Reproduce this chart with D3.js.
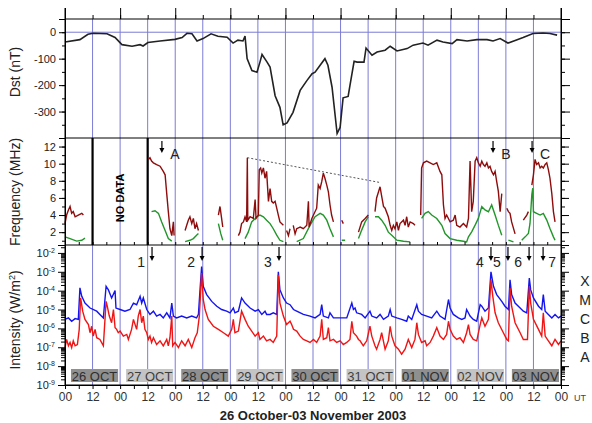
<!DOCTYPE html>
<html>
<head>
<meta charset="utf-8">
<script src="https://cdn.jsdelivr.net/npm/d3@7"></script>
<style>
  body { margin: 0; background: #fff; }
  svg { display: block; }
  text { font-family: "Liberation Sans", Arial, sans-serif; }
</style>
</head>
<body>
<div class="canvas"></div>
<script>
// hours counted from 26 Oct 2003 00 UT
const dstData = [[0,-37],[6.5,-28],[10,-8],[12.2,-4],[18.3,-6],[21.8,-20],[24.8,-47],[29.2,-53],[32.7,-47],[34,-52],[36.1,-39],
  [41.4,-33],[47.9,-27],[51,-20],[53.1,-4],[55.3,-6],[57.5,-33],[60.1,-24],[63.6,-6],[66.6,-15],[70.6,-19],[73.2,-41],[75.3,-30],
  [77.5,-33],[78.4,-15],[79.3,-100],[81.4,-145],[83.6,-151],[84.9,-113],[85.8,-84],[88,-113],[89.3,-132],[91.5,-240],[93.6,-284],
  [95,-350],[96.7,-343],[99.3,-303],[102.4,-220],[105.4,-182],[107.6,-157],[108.9,-151],[111.1,-125],[113.2,-100],[114.5,-125],
  [116.3,-208],[118.5,-383],[119.8,-360],[121.1,-248],[123.3,-243],[124.1,-201],[125.9,-110],[127.2,-113],[130.2,-113],[131.1,-60],
  [133.7,-87],[135.9,-75],[139.4,-68],[141.6,-53],[144.6,-71],[149,-62],[151.6,-49],[155.9,-41],[158.1,-49],[162,-30],[164.6,-37],
  [168.6,-43],[170.7,-28],[175.1,-33],[179.4,-28],[183.8,-28],[186.4,-33],[189.5,-24],[192.9,-41],[196.9,-28],[199.5,-20],
  [203.8,-5],[208.2,-3],[211.2,-5],[214.3,-11]];

// radio burst drift, MHz (null = gap)
const freqRed = [[0,3.0],[0.7,4.0],[1.5,4.6],[2.2,5.0],[2.9,4.2],[3.6,4.4],[4.4,3.8],[5.8,4.0],[7.3,4.2],[8.0,4.0], null,
  [36.3,10.5],[37.0,10.7],[37.7,10.3],[38.5,10.1],[39.9,9.9],[41.4,9.7],[42.8,9.1],[43.6,8.7],[44.3,6.5],[45.0,4.4],[45.7,2.4],[46.5,1.6],[47.2,3.2],[47.5,1.6], null,
  [52.3,2.2],[53.0,2.8],[53.7,3.4],[54.4,3.8],[55.2,3.0],[55.9,3.6],[56.6,2.4],[57.3,3.0],[58.1,2.2], null,
  [66.8,4.0],[67.5,5.0],[68.2,3.6],[68.7,2.6], null,
  [75.5,1.6],[76.2,2.0],[76.9,3.0],[77.7,3.2],[78.4,3.8],[79.1,3.2],[79.4,10.7],[79.6,3.4],[80.6,3.8],[82.0,3.6],[82.8,5.8],[83.2,3.6],
  [84.2,4.0],[84.6,9.3],[85.2,9.5],[85.7,8.9],[86.4,9.5],[87.1,8.3],[87.8,9.1],[88.6,5.6],[89.3,7.1],[90.0,5.6],[90.7,5.4],[91.5,5.6],
  [92.2,4.8],[92.9,4.0],[93.6,3.2],[95.1,2.8], null,
  [96.5,2.2],[97.3,1.6],[98.0,2.4], null,
  [99.4,2.8],[100.2,1.8],[100.9,2.4],[102.4,2.6],[103.8,2.4],[105.3,2.8],[106.0,5.6],[106.3,2.6],[107.5,3.6],[108.2,4.0],[109.6,4.8],
  [110.3,7.5],[111.1,7.1],[111.8,7.9],[112.5,8.9],[113.2,8.3],[114.0,7.5],[114.7,6.7],[115.4,5.2],[116.1,4.0],[116.9,3.2], null,
  [120.5,3.4],[121.2,3.0], null,
  [127.8,2.0],[129.2,3.2],[130.7,3.6],[132.1,4.0], null,
  [135.0,4.4],[135.7,6.0],[136.5,6.7],[137.2,7.3],[137.9,6.2],[138.7,5.0],[139.4,4.8],[140.8,3.8],[141.6,2.8],[142.3,2.2],[143.0,2.8],
  [143.7,2.4],[144.5,3.2],[145.2,2.2],[145.9,3.0],[147.4,3.4],[148.1,2.8],[148.8,3.8],[149.5,2.6],[150.3,3.2],[151.7,3.0],[152.4,2.8], null,
  [154.9,4.0],[155.3,9.5],[156.1,10.1],[157.5,10.3],[159.0,10.1],[160.4,9.9],[161.9,10.1],[163.3,9.1],[164.1,8.7],[164.8,5.2],[165.5,3.6],
  [166.2,4.0],[167.7,3.2],[169.1,3.4],[169.9,4.0],[170.6,2.8],[172.0,2.6],[173.5,3.0],[174.9,2.6],[175.7,3.6],[176.4,10.3],[177.1,4.4],
  [177.8,5.6],[178.6,10.3],[179.3,10.7],[180.0,10.1],[180.8,9.7],[181.5,10.3],[182.2,9.9],[182.9,9.7],[183.7,10.1],[184.4,9.5],[185.1,9.7],
  [185.8,9.1],[186.6,8.7],[187.3,9.1],[188.0,7.9],[188.7,6.8],[189.5,4.4],[190.2,6.5], null,
  [192.4,4.8],[193.1,4.4],[193.8,4.2],[194.5,3.2],[196.0,1.8], null,
  [199.6,3.4],[201.1,4.0],[201.8,4.4], null,
  [203.3,7.5],[204.0,8.7],[204.7,10.5],[205.4,9.9],[206.2,10.1],[206.9,9.5],[207.6,9.7],[208.3,9.5],[209.1,9.9],[209.8,10.1],[210.5,9.3],
  [211.2,8.3],[212.0,6.5],[212.7,4.4],[213.4,3.2]];

const freqGreen = [[0,1.45],[2.2,1.25],[5.1,0.95],[7.3,1.05],[8.7,1.3], null,
  [37.7,4.4],[39.2,4.5],[40.7,4.2],[42.1,3.2],[43.6,2.2],[45.0,1.25],[46.5,0.95], null,
  [52.3,0.9],[54.4,1.05],[55.9,1.25],[57.3,1.65],[58.1,1.85], null,
  [66.8,3.0],[67.8,1.85],[68.7,1.05], null,
  [78.4,1.25],[79.8,2.0],[81.3,3.2],[82.8,3.6],[83.5,3.8],[84.9,4.0],[86.4,3.8],[87.8,3.4],[89.3,3.0],[90.7,2.4],[92.2,1.65],[93.6,1.05],[95.1,0.9], null,
  [100.9,0.9],[103.8,1.25],[106.7,2.8],[108.9,3.8],[111.1,4.2],[112.5,4.0],[114.0,3.4],[115.4,2.4],[116.9,1.45], null,
  [120.5,1.05],[122.0,1.05], null,
  [127.8,1.25],[129.2,2.24],[130.7,3.2],[132.1,3.8], null,
  [135.0,3.8],[136.5,3.8],[137.9,3.4],[139.4,2.8],[140.8,2.0],[142.3,1.65],[144.5,1.06],[147.4,0.94],[150.3,0.86], null,
  [155.3,3.6],[156.8,4.2],[158.2,4.4],[159.7,4.0],[161.9,3.6],[164.1,2.8],[165.5,1.84],[167.7,1.25],[170.6,1.06],[173.5,0.94],[174.9,0.86],
  [175.7,1.45],[177.1,2.04],[178.6,2.82],[180.0,3.61],[181.5,4.98],[182.9,4.59],[184.4,4.39],[185.8,5.18],[187.3,4.0],[188.7,2.82],[190.2,1.65], null,
  [193.1,1.06],[195.3,0.86], null,
  [198.9,1.06],[200.4,1.45],[201.8,1.84],[202.5,3.02],[203.3,6.4],[203.7,7.14],[204.0,4.39],[205.4,4.2],[206.9,4.0],[208.3,4.2],
  [209.8,3.41],[211.2,2.43],[212.7,1.45],[213.4,1.06]];

// GOES X-ray flux, W/m^2
const xrayLong = [[0,3.0e-6],[1.5,3.6e-6],[2.9,2.4e-6],[4.4,3.3e-6],[5.8,3.0e-6],[6.5,1.4e-4],[7.3,5.0e-5],[8.7,2.2e-5],[10.9,1.2e-5],
  [13.8,8.2e-6],[15.2,5.5e-6],[16.7,3.6e-6],[17.9,1.7e-4],[18.9,1.1e-4],[20.3,4.1e-5],[21.8,1.0e-4],[22.2,1.2e-5],[24.0,1.0e-5],
  [26.1,8.2e-6],[28.3,1.0e-5],[29.8,2.2e-5],[31.2,1.8e-5],[32.7,5.0e-5],[33.4,2.2e-5],[34.1,4.1e-5],[35.6,1.0e-5],[37.0,5.5e-6],
  [38.5,8.2e-6],[39.9,4.5e-6],[41.4,5.5e-6],[42.8,3.6e-6],[44.3,6.7e-6],[45.7,3.6e-6],[46.5,2.2e-5],[47.2,4.5e-6],[48.6,3.6e-6],
  [50.8,4.5e-6],[53.0,3.6e-6],[55.2,4.5e-6],[57.3,3.6e-6],[58.1,5.5e-6],[58.8,1.1e-4],[59.5,1.9e-3],[60.2,1.7e-4],[61.7,6.2e-5],
  [63.9,2.7e-5],[66.1,1.5e-5],[68.2,1.0e-5],[70.4,8.2e-6],[71.9,6.7e-6],[73.3,1.2e-5],[74.0,6.7e-6],[75.5,8.2e-6],[76.9,4.1e-5],
  [78.4,2.2e-5],[80.6,1.2e-5],[82.8,8.2e-6],[84.2,1.0e-5],[85.7,5.5e-6],[87.1,8.2e-6],[87.8,5.5e-6],[89.3,5.5e-6],[90.7,6.7e-6],
  [92.2,5.5e-6],[92.9,1.0e-3],[93.6,1.1e-4],[95.1,4.1e-5],[96.5,2.2e-5],[98.0,1.8e-5],[99.5,1.0e-5],[100.9,8.2e-6],[103.8,5.5e-6],
  [106.7,4.5e-6],[108.9,3.6e-6],[111.1,5.5e-6],[111.8,1.8e-5],[112.5,4.5e-6],[114.7,3.6e-6],[115.4,6.7e-6],[116.9,3.6e-6],
  [119.8,3.6e-6],[122.7,3.6e-6],[124.9,2.2e-5],[125.6,1.0e-5],[126.3,1.2e-5],[127.0,6.7e-6],[129.2,5.5e-6],[130.7,3.6e-6],
  [132.8,8.2e-6],[133.6,4.5e-6],[135.7,3.6e-6],[137.2,5.5e-6],[138.7,3.0e-6],[140.8,4.5e-6],[141.6,1.0e-5],[142.3,4.5e-6],
  [144.5,3.6e-6],[146.6,3.0e-6],[148.8,2.4e-6],[149.5,4.5e-6],[151.0,3.0e-6],[153.2,1.8e-5],[153.9,8.2e-6],[155.3,5.5e-6],
  [157.5,4.5e-6],[159.7,3.6e-6],[161.9,8.2e-6],[163.3,4.5e-6],[165.5,3.0e-6],[167.0,3.4e-5],[167.7,1.2e-5],[169.1,5.5e-6],
  [171.3,3.6e-6],[172.8,3.0e-6],[174.2,3.6e-6],[174.9,1.0e-5],[176.4,4.5e-6],[177.8,3.0e-6],[179.3,2.4e-6],[180.8,1.8e-5],
  [181.5,1.5e-5],[182.9,8.2e-6],[184.4,1.2e-5],[185.5,1.0e-3],[186.6,1.7e-4],[188.0,6.2e-5],[190.2,2.7e-5],[191.6,1.5e-5],
  [193.1,1.0e-5],[193.8,3.8e-4],[194.5,6.2e-5],[196.0,2.2e-5],[198.2,1.2e-5],[199.6,8.2e-6],[201.1,6.7e-6],[202.2,4.6e-4],
  [202.8,1.1e-4],[204.0,4.1e-5],[206.2,1.5e-5],[207.6,1.0e-5],[208.3,6.2e-5],[209.1,8.2e-6],[210.5,5.5e-6],[212.0,3.6e-6],
  [213.4,5.5e-6],[214.9,3.6e-6],[216,4.5e-6]];

const xrayShort = [[0,9.6e-8],[0.7,2.6e-7],[1.5,1.2e-7],[2.2,1.8e-7],[2.9,9.6e-8],[3.6,2.2e-7],[4.4,1.2e-7],[5.4,1.4e-7],[6.2,8.9e-7],
  [6.8,4.1e-5],[7.7,8.2e-6],[8.7,3.0e-6],[10.2,1.6e-6],[10.9,5.9e-7],[11.6,1.3e-6],[12.3,3.9e-7],[13.1,8.9e-7],[13.8,3.2e-7],
  [15.2,2.6e-7],[16.7,1.2e-7],[17.9,2.7e-5],[18.4,1.5e-5],[19.3,4.5e-6],[20.3,2.0e-6],[21.1,1.0e-5],[21.8,1.1e-6],[22.5,8.9e-7],
  [23.2,5.9e-7],[24.0,7.2e-7],[25.4,3.9e-7],[26.9,4.8e-7],[27.6,2.6e-7],[29.0,8.9e-7],[29.8,3.0e-6],[31.2,8.9e-7],[31.9,4.5e-6],
  [32.7,1.0e-5],[33.4,2.0e-6],[34.1,4.5e-6],[34.8,8.9e-7],[35.6,5.9e-7],[36.3,2.6e-7],[37.0,3.9e-7],[37.7,1.8e-7],[38.5,3.2e-7],
  [39.9,1.4e-7],[41.4,2.2e-7],[42.8,1.2e-7],[44.3,2.6e-7],[45.0,1.2e-7],[45.7,3.2e-7],[46.5,4.5e-6],[46.9,1.2e-7],[47.9,1.8e-7],
  [49.4,9.6e-8],[50.8,2.2e-7],[52.3,1.2e-7],[53.7,2.6e-7],[55.2,9.6e-8],[56.6,3.2e-7],[57.6,5.9e-7],[58.5,4.5e-6],[59.1,1.1e-4],
  [59.5,8.5e-4],[60.2,3.4e-5],[61.0,1.0e-5],[62.4,3.0e-6],[64.6,1.3e-6],[66.8,8.9e-7],[69.0,5.9e-7],[71.1,3.9e-7],[72.6,8.9e-7],
  [73.3,3.0e-6],[74.0,5.9e-7],[75.5,7.2e-7],[76.9,8.2e-6],[78.4,3.0e-6],[79.8,1.3e-6],[81.3,7.2e-7],[82.8,3.9e-7],[84.2,5.9e-7],
  [84.9,2.6e-7],[86.4,3.9e-7],[87.8,2.2e-7],[89.3,2.6e-7],[90.7,1.8e-7],[92.2,3.9e-7],[92.9,7.0e-4],[93.6,2.2e-5],[95.1,4.5e-6],
  [96.5,1.6e-6],[98.0,2.4e-6],[98.7,1.6e-6],[99.5,8.9e-7],[100.9,7.2e-7],[102.4,3.9e-7],[103.8,2.6e-7],[105.3,2.2e-7],[106.7,1.8e-7],
  [108.2,2.6e-7],[109.6,1.8e-7],[111.1,3.9e-7],[111.8,3.0e-6],[112.5,2.6e-7],[114.0,3.2e-7],[114.7,1.1e-6],[115.4,2.2e-7],
  [116.9,2.6e-7],[118.3,1.8e-7],[119.8,2.2e-7],[121.2,1.4e-7],[122.7,1.8e-7],[124.1,2.6e-7],[124.9,2.4e-6],[125.6,5.9e-7],
  [127.0,3.9e-7],[127.8,2.6e-7],[128.5,2.2e-7],[129.9,1.2e-7],[131.4,2.2e-7],[132.8,1.3e-6],[133.6,3.9e-7],[135.0,1.2e-7],
  [135.7,7.9e-8],[137.2,2.6e-7],[137.9,5.9e-7],[139.4,7.9e-8],[140.8,2.2e-7],[141.6,1.3e-6],[142.3,3.9e-7],[143.7,1.2e-7],
  [145.2,7.9e-8],[146.6,4.3e-8],[148.1,7.9e-8],[149.5,2.6e-7],[151.0,9.6e-8],[152.4,2.6e-7],[153.2,2.0e-6],[153.9,4.8e-7],
  [155.3,1.8e-7],[156.8,2.2e-7],[157.5,1.2e-7],[159.0,1.8e-7],[160.4,3.9e-7],[161.9,1.1e-6],[163.3,3.9e-7],[164.8,2.6e-7],
  [166.2,4.8e-7],[167.0,2.4e-6],[167.7,8.9e-7],[169.1,3.9e-7],[170.6,2.6e-7],[172.0,3.2e-7],[173.5,1.8e-7],[174.9,5.9e-7],
  [175.7,1.6e-6],[176.4,4.8e-7],[177.8,2.6e-7],[179.3,2.2e-7],[180.8,1.6e-6],[181.5,3.6e-6],[182.9,1.3e-6],[184.4,3.0e-6],
  [185.5,3.8e-4],[186.3,5.0e-5],[187.3,6.7e-6],[188.7,2.0e-6],[190.9,5.9e-7],[192.4,2.6e-7],[193.1,2.2e-7],[193.8,1.4e-4],
  [194.5,1.5e-5],[196.0,2.0e-6],[198.2,5.9e-7],[199.6,2.6e-7],[201.4,2.6e-7],[202.2,1.7e-4],[202.8,2.2e-5],[204.0,3.0e-6],
  [206.2,8.9e-7],[207.6,3.9e-7],[208.3,6.7e-6],[209.1,3.9e-7],[210.5,2.2e-7],[212.0,1.2e-7],[213.4,2.6e-7],[214.9,1.4e-7],[216,2.2e-7]];

const dayLabels = ['26 OCT', '27 OCT', '28 OCT', '29 OCT', '30 OCT', '31 OCT', '01 NOV', '02 NOV', '03 NOV'];
const flareNames = ['1', '2', '3', '4', '5', '6', '7'];
const flareHours = [37.9, 59.7, 93.2, 185.5, 192.9, 202.1, 208.2];
const burstNames = ['A', 'B', 'C'];
const burstHours = [42.2, 186.4, 203.4];
const noDataHours = [12, 36];
const driftLine = [[79.4, 10.7], [137.2, 7.8]];
const classNames = ['X', 'M', 'C', 'B', 'A'];
const classFlux = [10 ** -3.5, 10 ** -4.5, 10 ** -5.5, 10 ** -6.5, 10 ** -7.5];

const t0 = Date.UTC(2003, 9, 26);
const at = h => new Date(t0 + h * 3600e3);

const left = 65, right = 561;
const dstTop = 19, dstBot = 138, frqBot = 245, intBot = 385;
const gridBlue = '#7c7cd6';

const svg = d3.select('.canvas')
    .append('svg')
    .attr('width', 592)
    .attr('height', 423);

const x = d3.scaleUtc().domain([at(0), at(216)]).range([left, right]);
const yDst = d3.scaleLinear().domain([50, -400]).range([dstTop, dstBot]);
const yFrq = d3.scaleLinear().domain([0.5, 13]).range([frqBot, dstBot]);
const yInt = d3.scaleLog().domain([1e-9, 10 ** -1.58]).range([intBot, frqBot]);

// blue grid every 12 h
const gridHours = d3.range(12, 216, 12);
svg.append('g').selectAll('line')
    .data(gridHours)
    .enter().append('line')
    .attr('x1', d => x(at(d))).attr('x2', d => x(at(d)))
    .attr('y1', dstTop).attr('y2', intBot)
    .attr('stroke', gridBlue).attr('stroke-width', 1);

// Dst zero line
svg.append('line')
    .attr('x1', left).attr('x2', right)
    .attr('y1', yDst(0)).attr('y2', yDst(0))
    .attr('stroke', gridBlue);

// no data markers
svg.append('g').selectAll('line')
    .data(noDataHours)
    .enter().append('line')
    .attr('x1', d => x(at(d))).attr('x2', d => x(at(d)))
    .attr('y1', dstBot).attr('y2', frqBot)
    .attr('stroke', '#000').attr('stroke-width', 2.2);

svg.append('text')
    .attr('transform', `translate(${x(at(24)) + 4}, ${yFrq(6)}) rotate(-90)`)
    .attr('text-anchor', 'middle')
    .attr('font-size', 11).attr('font-weight', 'bold')
    .text('NO DATA');

// series
const lineOf = yScale => d3.line()
    .defined(d => d !== null)
    .x(d => x(at(d[0])))
    .y(d => yScale(d[1]));

svg.append('path').datum(dstData)
    .attr('d', lineOf(yDst))
    .attr('fill', 'none').attr('stroke', '#222').attr('stroke-width', 1.6);

svg.append('path').datum(driftLine)
    .attr('d', lineOf(yFrq))
    .attr('fill', 'none').attr('stroke', '#555').attr('stroke-width', 1).attr('stroke-dasharray', '2,2');

svg.append('path').datum(freqGreen)
    .attr('d', lineOf(yFrq))
    .attr('fill', 'none').attr('stroke', '#22962a').attr('stroke-width', 1.4);

svg.append('path').datum(freqRed)
    .attr('d', lineOf(yFrq))
    .attr('fill', 'none').attr('stroke', '#8e0c0c').attr('stroke-width', 1.4);

svg.append('path').datum(xrayLong)
    .attr('d', lineOf(yInt))
    .attr('fill', 'none').attr('stroke', '#1414f0').attr('stroke-width', 1.4);

svg.append('path').datum(xrayShort)
    .attr('d', lineOf(yInt))
    .attr('fill', 'none').attr('stroke', '#f01414').attr('stroke-width', 1.4);

// frame lines
const frameYs = [dstTop, dstBot, frqBot, intBot];
frameYs.forEach(yy => {
    svg.append('line').attr('x1', left).attr('x2', right).attr('y1', yy).attr('y2', yy).attr('stroke', '#000');
});

// left / right axes
const styleAxis = g => {
    g.select('.domain').attr('stroke', '#000');
    g.selectAll('.tick line').attr('stroke', '#000');
    g.selectAll('text').attr('fill', '#222').attr('font-size', 11)
        .attr('font-family', '"Liberation Sans", Arial, sans-serif');
};

const addAxis = (axis, xPos) => svg.append('g')
    .attr('transform', `translate(${xPos}, 0)`)
    .call(axis).call(styleAxis);

addAxis(d3.axisLeft(yDst).tickValues(d3.range(-400, 51, 50)).tickSize(3).tickFormat(''), left);
addAxis(d3.axisLeft(yDst).tickValues([0, -100, -200, -300]).tickSize(6).tickPadding(3).tickFormat(d => String(d)), left);
addAxis(d3.axisRight(yDst).tickValues(d3.range(-400, 51, 50)).tickSize(4).tickFormat(''), right);
addAxis(d3.axisRight(yDst).tickValues(d3.range(-400, 51, 100)).tickSize(9).tickFormat(''), right);

addAxis(d3.axisLeft(yFrq).tickValues(d3.range(1, 14, 1)).tickSize(3).tickFormat(''), left);
addAxis(d3.axisLeft(yFrq).tickValues(d3.range(2, 13, 2)).tickSize(6).tickPadding(3), left);
addAxis(d3.axisRight(yFrq).tickValues(d3.range(1, 14, 1)).tickSize(4).tickFormat(''), right);
addAxis(d3.axisRight(yFrq).tickValues(d3.range(2, 13, 2)).tickSize(8).tickFormat(''), right);

const decades = d3.range(-9, -1).map(e => 10 ** e);
const minorFlux = [];
d3.range(-9, -1).forEach(e => d3.range(2, 10).forEach(k => {
    if (k * 10 ** e < yInt.domain()[1]) minorFlux.push(k * 10 ** e);
}));

addAxis(d3.axisLeft(yInt).tickValues(minorFlux).tickSize(4).tickFormat(''), left);
addAxis(d3.axisRight(yInt).tickValues(minorFlux).tickSize(4).tickFormat(''), right);
addAxis(d3.axisRight(yInt).tickValues(decades).tickSize(8).tickFormat(''), right);
addAxis(d3.axisLeft(yInt).tickValues(decades).tickSize(7).tickPadding(3).tickFormat(''), left)
    .selectAll('.tick text').each(function(d) {
        const t = d3.select(this);
        t.append('tspan').text('10');
        t.append('tspan').attr('dy', -4).attr('font-size', 7).text(String(Math.round(Math.log10(d))));
    });

// class letters
svg.append('g').selectAll('text')
    .data(classNames)
    .enter().append('text')
    .attr('x', 585).attr('y', (d, i) => yInt(classFlux[i]))
    .attr('dy', '0.35em').attr('text-anchor', 'middle')
    .attr('font-size', 14).attr('fill', '#222')
    .text(d => d);

// top ticks
addAxis(d3.axisTop(x).ticks(d3.utcHour.every(24)).tickSize(11).tickFormat(''), 0)
    .attr('transform', `translate(0, ${dstTop})`).select('.domain').remove();
addAxis(d3.axisTop(x).ticks(d3.utcHour.every(12)).tickSize(4).tickFormat(''), 0)
    .attr('transform', `translate(0, ${dstTop})`).select('.domain').remove();

// small ticks at bottom of frequency panel
addAxis(d3.axisTop(x).ticks(d3.utcHour.every(6)).tickSize(3).tickFormat(''), 0)
    .attr('transform', `translate(0, ${frqBot})`).select('.domain').remove();

// vertical frame
svg.append('line').attr('x1', left).attr('x2', left).attr('y1', dstTop - 11).attr('y2', intBot).attr('stroke', '#000');
svg.append('line').attr('x1', right).attr('x2', right).attr('y1', dstTop - 11).attr('y2', intBot).attr('stroke', '#000');

// day boxes
const days = svg.append('g').selectAll('g')
    .data(dayLabels)
    .enter().append('g');

days.append('rect')
    .attr('x', (d, i) => x(at(24 * i)) + 6)
    .attr('width', (d, i) => x(at(24 * i + 24)) - x(at(24 * i)) - 8)
    .attr('y', 369).attr('height', 13)
    .attr('fill', (d, i) => i % 2 === 0 ? '#8f8f8f' : '#c4c4c4');

days.append('text')
    .attr('x', (d, i) => (x(at(24 * i)) + x(at(24 * i + 24))) / 2 + 2)
    .attr('y', 380.5)
    .attr('text-anchor', 'middle')
    .attr('font-size', 13)
    .attr('fill', (d, i) => i % 2 === 0 ? '#2e2e2e' : '#3e3e3e')
    .text(d => d);

// bottom axis
const xAxisGroup = svg.append('g')
    .attr('transform', `translate(0, ${intBot})`)
    .call(d3.axisBottom(x).ticks(d3.utcHour.every(6)).tickSize(4).tickPadding(3)
        .tickFormat(d => d.getUTCHours() % 12 === 0 ? d3.utcFormat('%H')(d) : ''))
    .call(styleAxis);
xAxisGroup.selectAll('text').attr('font-size', 12).attr('fill', '#333');

svg.append('text')
    .attr('x', 580).attr('y', 401)
    .attr('text-anchor', 'middle')
    .attr('font-size', 9).attr('fill', '#444')
    .text('UT');

svg.append('text')
    .attr('x', 313).attr('y', 420)
    .attr('text-anchor', 'middle')
    .attr('font-size', 13).attr('font-weight', 'bold').attr('fill', '#222')
    .text('26 October-03 November 2003');

// axis titles
const yTitles = [['Dst (nT)', 72], ['Frequency (MHz)', 192]];
yTitles.forEach(([label, yc]) => {
    svg.append('text')
        .attr('transform', `translate(15, ${yc}) rotate(-90)`)
        .attr('text-anchor', 'middle').attr('dy', '0.35em')
        .attr('font-size', 14).attr('fill', '#222')
        .text(label);
});
const intTitle = svg.append('text')
    .attr('transform', 'translate(15, 320) rotate(-90)')
    .attr('text-anchor', 'middle').attr('dy', '0.35em')
    .attr('font-size', 14).attr('fill', '#222');
intTitle.append('tspan').text('Intensity (W/m');
intTitle.append('tspan').attr('dy', -5).attr('font-size', 9).text('2');
intTitle.append('tspan').attr('dy', 5).text(')');

// arrows
const arrow = (g, xx, y1, y2) => {
    g.append('line').attr('x1', xx).attr('x2', xx).attr('y1', y1).attr('y2', y2 - 4)
        .attr('stroke', '#000').attr('stroke-width', 1.2);
    g.append('path').attr('d', `M${xx - 2.5},${y2 - 5}L${xx + 2.5},${y2 - 5}L${xx},${y2}Z`).attr('fill', '#000');
};

const annot = svg.append('g');
flareHours.forEach((h, i) => {
    const xx = x(at(h));
    arrow(annot, xx, 247, 261);
    annot.append('text')
        .attr('x', i === 6 ? xx + 9 : xx - 11).attr('y', 267)
        .attr('text-anchor', 'middle').attr('font-size', 14).attr('fill', '#222')
        .text(flareNames[i]);
});
burstHours.forEach((h, i) => {
    const xx = x(at(h));
    arrow(annot, xx, 141, 153);
    annot.append('text')
        .attr('x', xx + 13).attr('y', 159)
        .attr('text-anchor', 'middle').attr('font-size', 14).attr('fill', '#222')
        .text(burstNames[i]);
});
</script>
</body>
</html>
